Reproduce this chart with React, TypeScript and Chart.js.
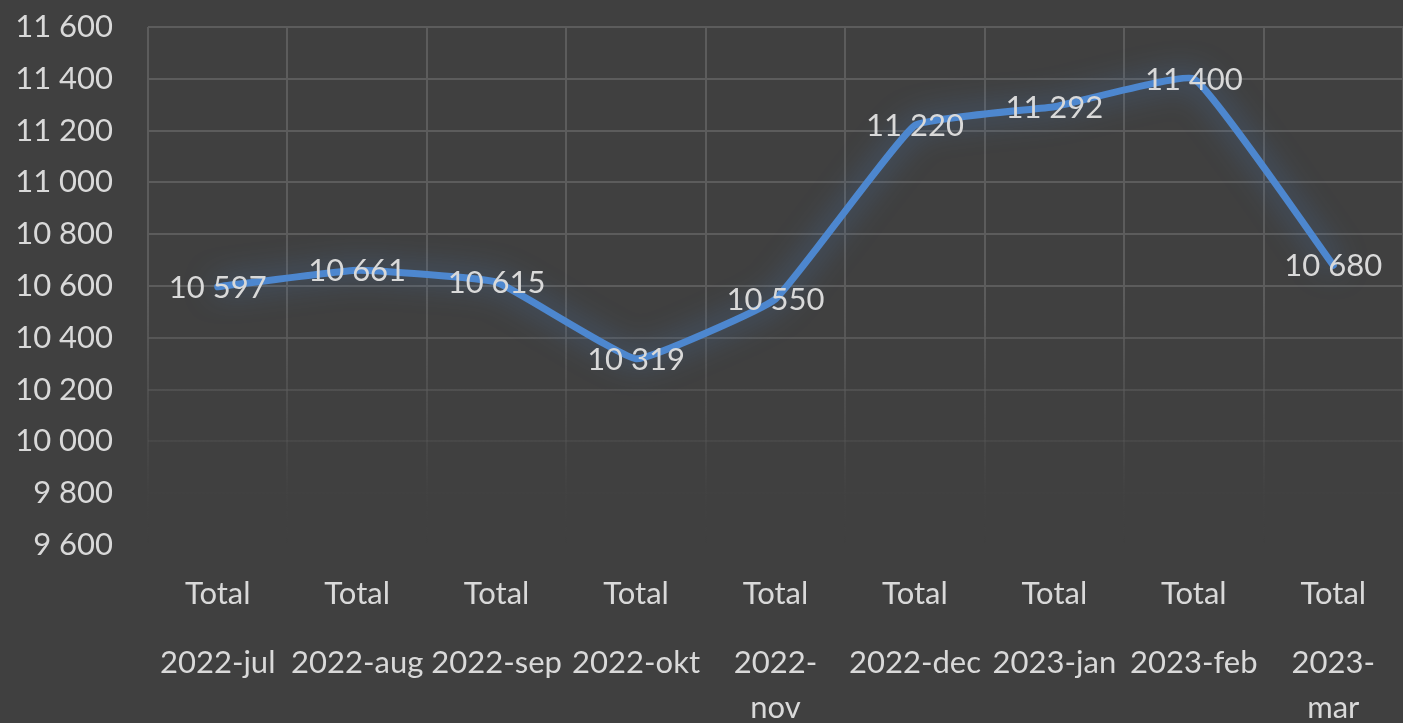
import React, { useEffect, useRef } from "react";
import { Chart, registerables } from "chart.js";

Chart.register(...registerables);

const categories = ["2022-jul", "2022-aug", "2022-sep", "2022-okt", "2022-nov", "2022-dec", "2023-jan", "2023-feb", "2023-mar"];
const categoryLines = [["2022-jul"], ["2022-aug"], ["2022-sep"], ["2022-okt"], ["2022-", "nov"], ["2022-dec"], ["2023-jan"], ["2023-feb"], ["2023-", "mar"]];
const groupLabel = "Total";
const values = [10597, 10661, 10615, 10319, 10550, 11220, 11292, 11400, 10680];
const yMin = 9600;
const yMax = 11600;
const yStep = 200;

const FONT = "Lato, 'Open Sans', sans-serif";
const TEXT = "#d9d9d9";
const BG = "#404040";

const fmt = (n: number) => String(Math.round(n)).replace(/\B(?=(\d{3})+(?!\d))/g, " ");

function gridGradient(ctx: any) {
  const chart = ctx.chart;
  const area = chart.chartArea;
  if (!area) return "#595959";
  const g = chart.ctx.createLinearGradient(0, area.top, 0, area.bottom);
  g.addColorStop(0, "rgba(92,92,92,1)");
  g.addColorStop(0.52, "rgba(92,92,92,1)");
  g.addColorStop(0.9, "rgba(92,92,92,0.05)");
  g.addColorStop(1, "rgba(92,92,92,0)");
  return g;
}

const glowPlugin = {
  id: "glow",
  beforeDatasetsDraw(chart: any) {
    const c = chart.ctx;
    c.save();
    c.shadowColor = "rgba(80,145,225,0.6)";
    c.shadowBlur = 30;
  },
  afterDatasetsDraw(chart: any) {
    chart.ctx.restore();
  },
};

const labelsPlugin = {
  id: "customLabels",
  afterDraw(chart: any) {
    const c = chart.ctx;
    const meta = chart.getDatasetMeta(0);
    const xs = chart.scales.x;
    c.save();
    c.font = `31px ${FONT}`;
    c.fillStyle = TEXT;
    c.textAlign = "center";
    c.textBaseline = "middle";
    meta.data.forEach((pt: any, i: number) => {
      c.fillText(fmt(values[i]), pt.x, pt.y + 1);
    });
    categories.forEach((_, i) => {
      const x = xs.getPixelForValue(i);
      c.fillText(groupLabel, x, 594);
      categoryLines[i].forEach((line, j) => {
        c.fillText(line, x, 663 + j * 45);
      });
    });
    c.restore();
  },
};

export default function App() {
  const ref = useRef<HTMLCanvasElement | null>(null);
  useEffect(() => {
    if (!ref.current) return;
    const chart = new Chart(ref.current, {
      type: "line",
      data: {
        labels: categories,
        datasets: [
          {
            data: values,
            borderColor: "#4d87cf",
            borderWidth: 7,
            pointRadius: 0,
            tension: 0.1,
            fill: false,
            borderCapStyle: "round",
            borderJoinStyle: "round",
          },
        ],
      },
      options: {
        animation: false,
        responsive: true,
        maintainAspectRatio: false,
        layout: { padding: { top: 27, bottom: 178, left: 0, right: 0 } },
        plugins: { legend: { display: false }, tooltip: { enabled: false } },
        scales: {
          x: {
            offset: true,
            grid: { offset: true, color: gridGradient, lineWidth: 2, drawTicks: false },
            border: { display: false },
            ticks: { display: false },
          },
          y: {
            min: yMin,
            max: yMax,
            ticks: {
              stepSize: yStep,
              color: TEXT,
              font: { family: FONT, size: 31 },
              padding: 35,
              callback: (v: any) => fmt(Number(v)),
            },
            grid: { color: gridGradient, lineWidth: 2, drawTicks: false },
            border: { display: false },
            afterFit: (scale: any) => {
              scale.width = 148;
              scale.paddingTop = 0;
              scale.paddingBottom = 0;
            },
          },
        },
      },
      plugins: [glowPlugin, labelsPlugin],
    });
    return () => chart.destroy();
  }, []);
  return (
    <div style={{ position: "fixed", left: 0, top: 0, width: 1403, height: 723, background: BG }}>
      <canvas ref={ref} />
    </div>
  );
}
